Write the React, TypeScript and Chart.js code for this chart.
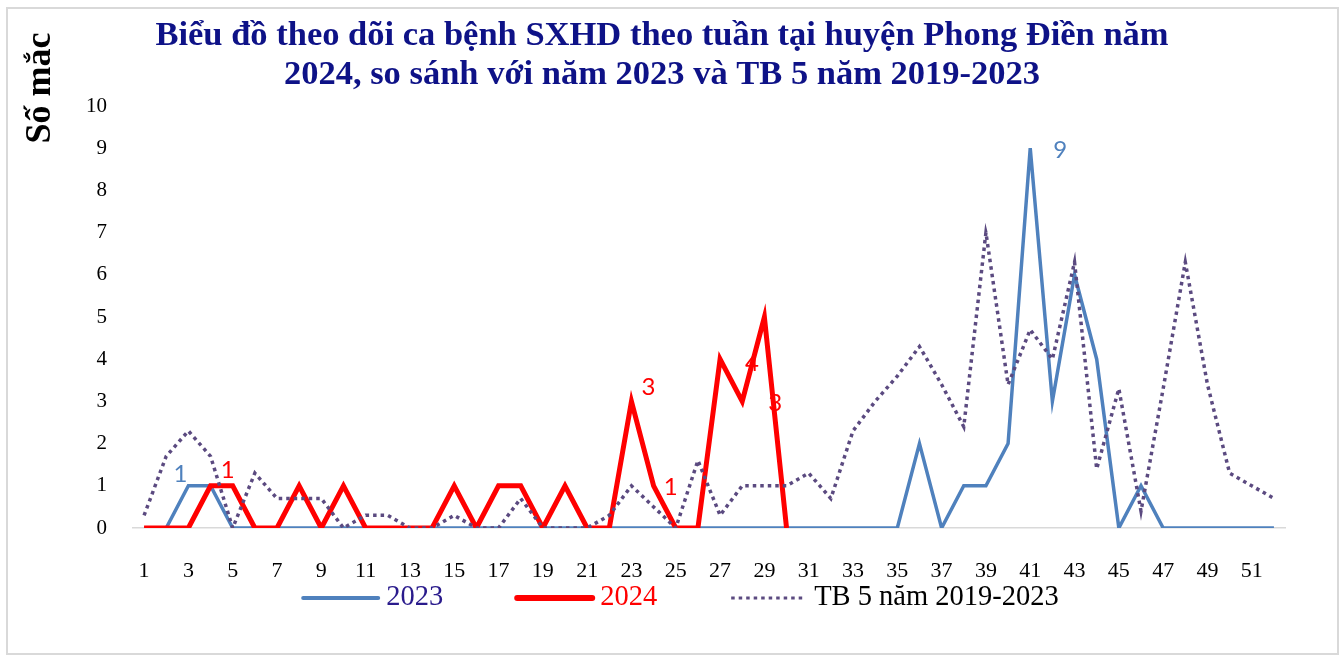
import React, { useEffect, useRef } from "react";
import { Chart, registerables } from "chart.js";

Chart.register(...registerables);

const weeks = [
  "1", "2", "3", "4", "5", "6", "7", "8", "9", "10",
  "11", "12", "13", "14", "15", "16", "17", "18", "19", "20",
  "21", "22", "23", "24", "25", "26", "27", "28", "29", "30",
  "31", "32", "33", "34", "35", "36", "37", "38", "39", "40",
  "41", "42", "43", "44", "45", "46", "47", "48", "49", "50",
  "51", "52",
];

const cases2023 = [
  0, 0, 1, 1, 0, 0, 0, 0, 0, 0,
  0, 0, 0, 0, 0, 0, 0, 0, 0, 0,
  0, 0, 0, 0, 0, 0, 0, 0, 0, 0,
  0, 0, 0, 0, 0, 2, 0, 1, 1, 2,
  9, 3, 6, 4, 0, 1, 0, 0, 0, 0,
  0, 0,
];

const cases2024 = [
  0, 0, 0, 1, 1, 0, 0, 1, 0, 1,
  0, 0, 0, 0, 1, 0, 1, 1, 0, 1,
  0, 0, 3, 1, 0, 0, 4, 3, 5, 0,
  null, null, null, null, null, null, null, null, null, null,
  null, null, null, null, null, null, null, null, null, null,
  null, null,
];

const avg5y = [
  0.3, 1.7, 2.3, 1.7, 0, 1.3, 0.7, 0.7, 0.7, 0,
  0.3, 0.3, 0, 0, 0.3, 0, 0, 0.7, 0, 0,
  0, 0.3, 1.0, 0.5, 0, 1.6, 0.3, 1.0, 1.0, 1.0,
  1.3, 0.7, 2.3, 3.0, 3.6, 4.3, 3.4, 2.4, 7.0, 3.4,
  4.7, 4.0, 6.3, 1.4, 3.3, 0.4, 3.3, 6.3, 3.4, 1.3,
  1.0, 0.7,
];

const seriesNames = ["2023", "2024", "TB 5 năm 2019-2023"];
const titleLines = [
  "Biểu đồ theo dõi ca bệnh SXHD theo tuần tại huyện Phong Điền năm",
  "2024, so sánh với năm 2023 và TB 5 năm 2019-2023",
];
const yAxisTitle = "Số mắc";

// which points carry a value label: [dataset index, week index]
const labelledPoints = [
  [0, 2],
  [1, 4],
  [1, 22],
  [1, 23],
  [1, 26],
  [1, 27],
  [0, 40],
];
// label offsets (pixels from the point), same order as labelledPoints
const labelOffsets = [
  [-8, -12],
  [-5, -16],
  [17, -14],
  [17, 1],
  [32, 4],
  [33, 2],
  [30, 2],
];

const BLUE = "#4F81BD";
const RED = "#FF0000";
const PURPLE = "#5B4A80";
const NAVY = "#0E1287";
const SERIF = '"Liberation Serif", "Times New Roman", serif';
const LABEL_FONT = 'Lato, "Liberation Sans", sans-serif';

const legendTextColors = ["#2A1B8C", RED, "#000000"];
const legendLineWidths = [4, 6, 3];

const overlayPlugin = {
  id: "overlay",
  afterDraw(chart: any) {
    const ctx = chart.ctx as CanvasRenderingContext2D;
    const xs = chart.scales.x;
    const ys = chart.scales.y;

    // Title
    ctx.save();
    ctx.fillStyle = NAVY;
    ctx.font = `bold 34.5px ${SERIF}`;
    ctx.textAlign = "center";
    ctx.textBaseline = "middle";
    titleLines.forEach((line, i) => ctx.fillText(line, 662, 36 + i * 39));
    ctx.restore();

    // Y axis title
    ctx.save();
    ctx.translate(41, 88);
    ctx.rotate(-Math.PI / 2);
    ctx.fillStyle = "#000";
    ctx.font = `bold 36px ${SERIF}`;
    ctx.textAlign = "center";
    ctx.textBaseline = "middle";
    ctx.fillText(yAxisTitle, 0, 0);
    ctx.restore();

    // Data labels
    ctx.save();
    ctx.font = `24px ${LABEL_FONT}`;
    ctx.textAlign = "center";
    ctx.textBaseline = "middle";
    labelledPoints.forEach(([ds, i], k) => {
      const v = chart.data.datasets[ds].data[i];
      const px = xs.getPixelForValue(i);
      const py = ys.getPixelForValue(v);
      ctx.fillStyle = ds === 0 ? BLUE : RED;
      ctx.fillText(String(v), px + labelOffsets[k][0], py + labelOffsets[k][1]);
    });
    ctx.restore();

    // Legend
    ctx.save();
    ctx.font = `28.5px ${SERIF}`;
    ctx.textBaseline = "middle";
    const lineLen = 75;
    const gap = 8;
    const spacing = 74;
    const items = chart.data.datasets.map((d: any, i: number) => ({
      d,
      w: lineLen + gap + ctx.measureText(d.label).width,
      i,
    }));
    const total = items.reduce((s: number, it: any) => s + it.w, 0) + spacing * (items.length - 1);
    let x = 681 - total / 2;
    const y = 598;
    items.forEach((it: any) => {
      ctx.beginPath();
      ctx.strokeStyle = it.d.borderColor;
      ctx.lineWidth = legendLineWidths[it.i];
      ctx.setLineDash(it.d.borderDash || []);
      ctx.lineCap = it.d.borderDash ? "butt" : "round";
      ctx.moveTo(x, y);
      ctx.lineTo(x + lineLen, y);
      ctx.stroke();
      ctx.setLineDash([]);
      ctx.fillStyle = legendTextColors[it.i];
      ctx.textAlign = "left";
      ctx.fillText(it.d.label, x + lineLen + gap, y);
      x += it.w + spacing;
    });
    ctx.restore();
  },
};

export default function App() {
  const ref = useRef<HTMLCanvasElement>(null);

  useEffect(() => {
    if (!ref.current) return;
    const chart = new Chart(ref.current, {
      type: "line",
      data: {
        labels: weeks,
        datasets: [
          {
            label: seriesNames[0],
            data: cases2023,
            borderColor: BLUE,
            borderWidth: 3.5,
            pointRadius: 0,
            tension: 0,
            order: 3,
          },
          {
            label: seriesNames[1],
            data: cases2024,
            borderColor: RED,
            borderWidth: 5,
            pointRadius: 0,
            tension: 0,
            spanGaps: false,
            order: 2,
          },
          {
            label: seriesNames[2],
            data: avg5y,
            borderColor: PURPLE,
            borderWidth: 3.5,
            borderDash: [3.5, 4],
            pointRadius: 0,
            tension: 0,
            order: 1,
          },
        ] as any,
      },
      options: {
        responsive: false,
        animation: false,
        devicePixelRatio: 1,
        layout: { padding: { left: 0, right: 54, top: 106, bottom: 0 } },
        plugins: {
          legend: { display: false },
          title: { display: false },
          tooltip: { enabled: false },
        },
        scales: {
          x: {
            type: "category",
            offset: true,
            grid: { display: false, drawTicks: false },
            border: { display: true, color: "#D9D9D9", width: 1.5 },
            ticks: {
              autoSkip: false,
              maxRotation: 0,
              minRotation: 0,
              padding: 30,
              color: "#000",
              font: { family: SERIF, size: 22 },
              callback: (_v: any, i: number) => (i % 2 === 0 ? weeks[i] : ""),
            },
            afterFit: (s: any) => {
              s.height = 128;
            },
          },
          y: {
            min: 0,
            max: 10,
            grid: { display: false, drawTicks: false },
            border: { display: false },
            ticks: {
              stepSize: 1,
              padding: 26,
              color: "#000",
              font: { family: SERIF, size: 21 },
            },
            afterFit: (s: any) => {
              s.width = 133;
            },
          },
        },
      } as any,
      plugins: [overlayPlugin],
    });
    return () => chart.destroy();
  }, []);

  return (
    <div style={{ position: "fixed", left: 0, top: 0, width: 1339, height: 656, background: "#fff" }}>
      <div
        style={{
          position: "absolute",
          left: 6,
          top: 7,
          width: 1333,
          height: 648,
          border: "2px solid #D9D9D9",
          boxSizing: "border-box",
        }}
      />
      <canvas ref={ref} width={1339} height={656} style={{ position: "absolute", left: 0, top: 0 }} />
    </div>
  );
}
